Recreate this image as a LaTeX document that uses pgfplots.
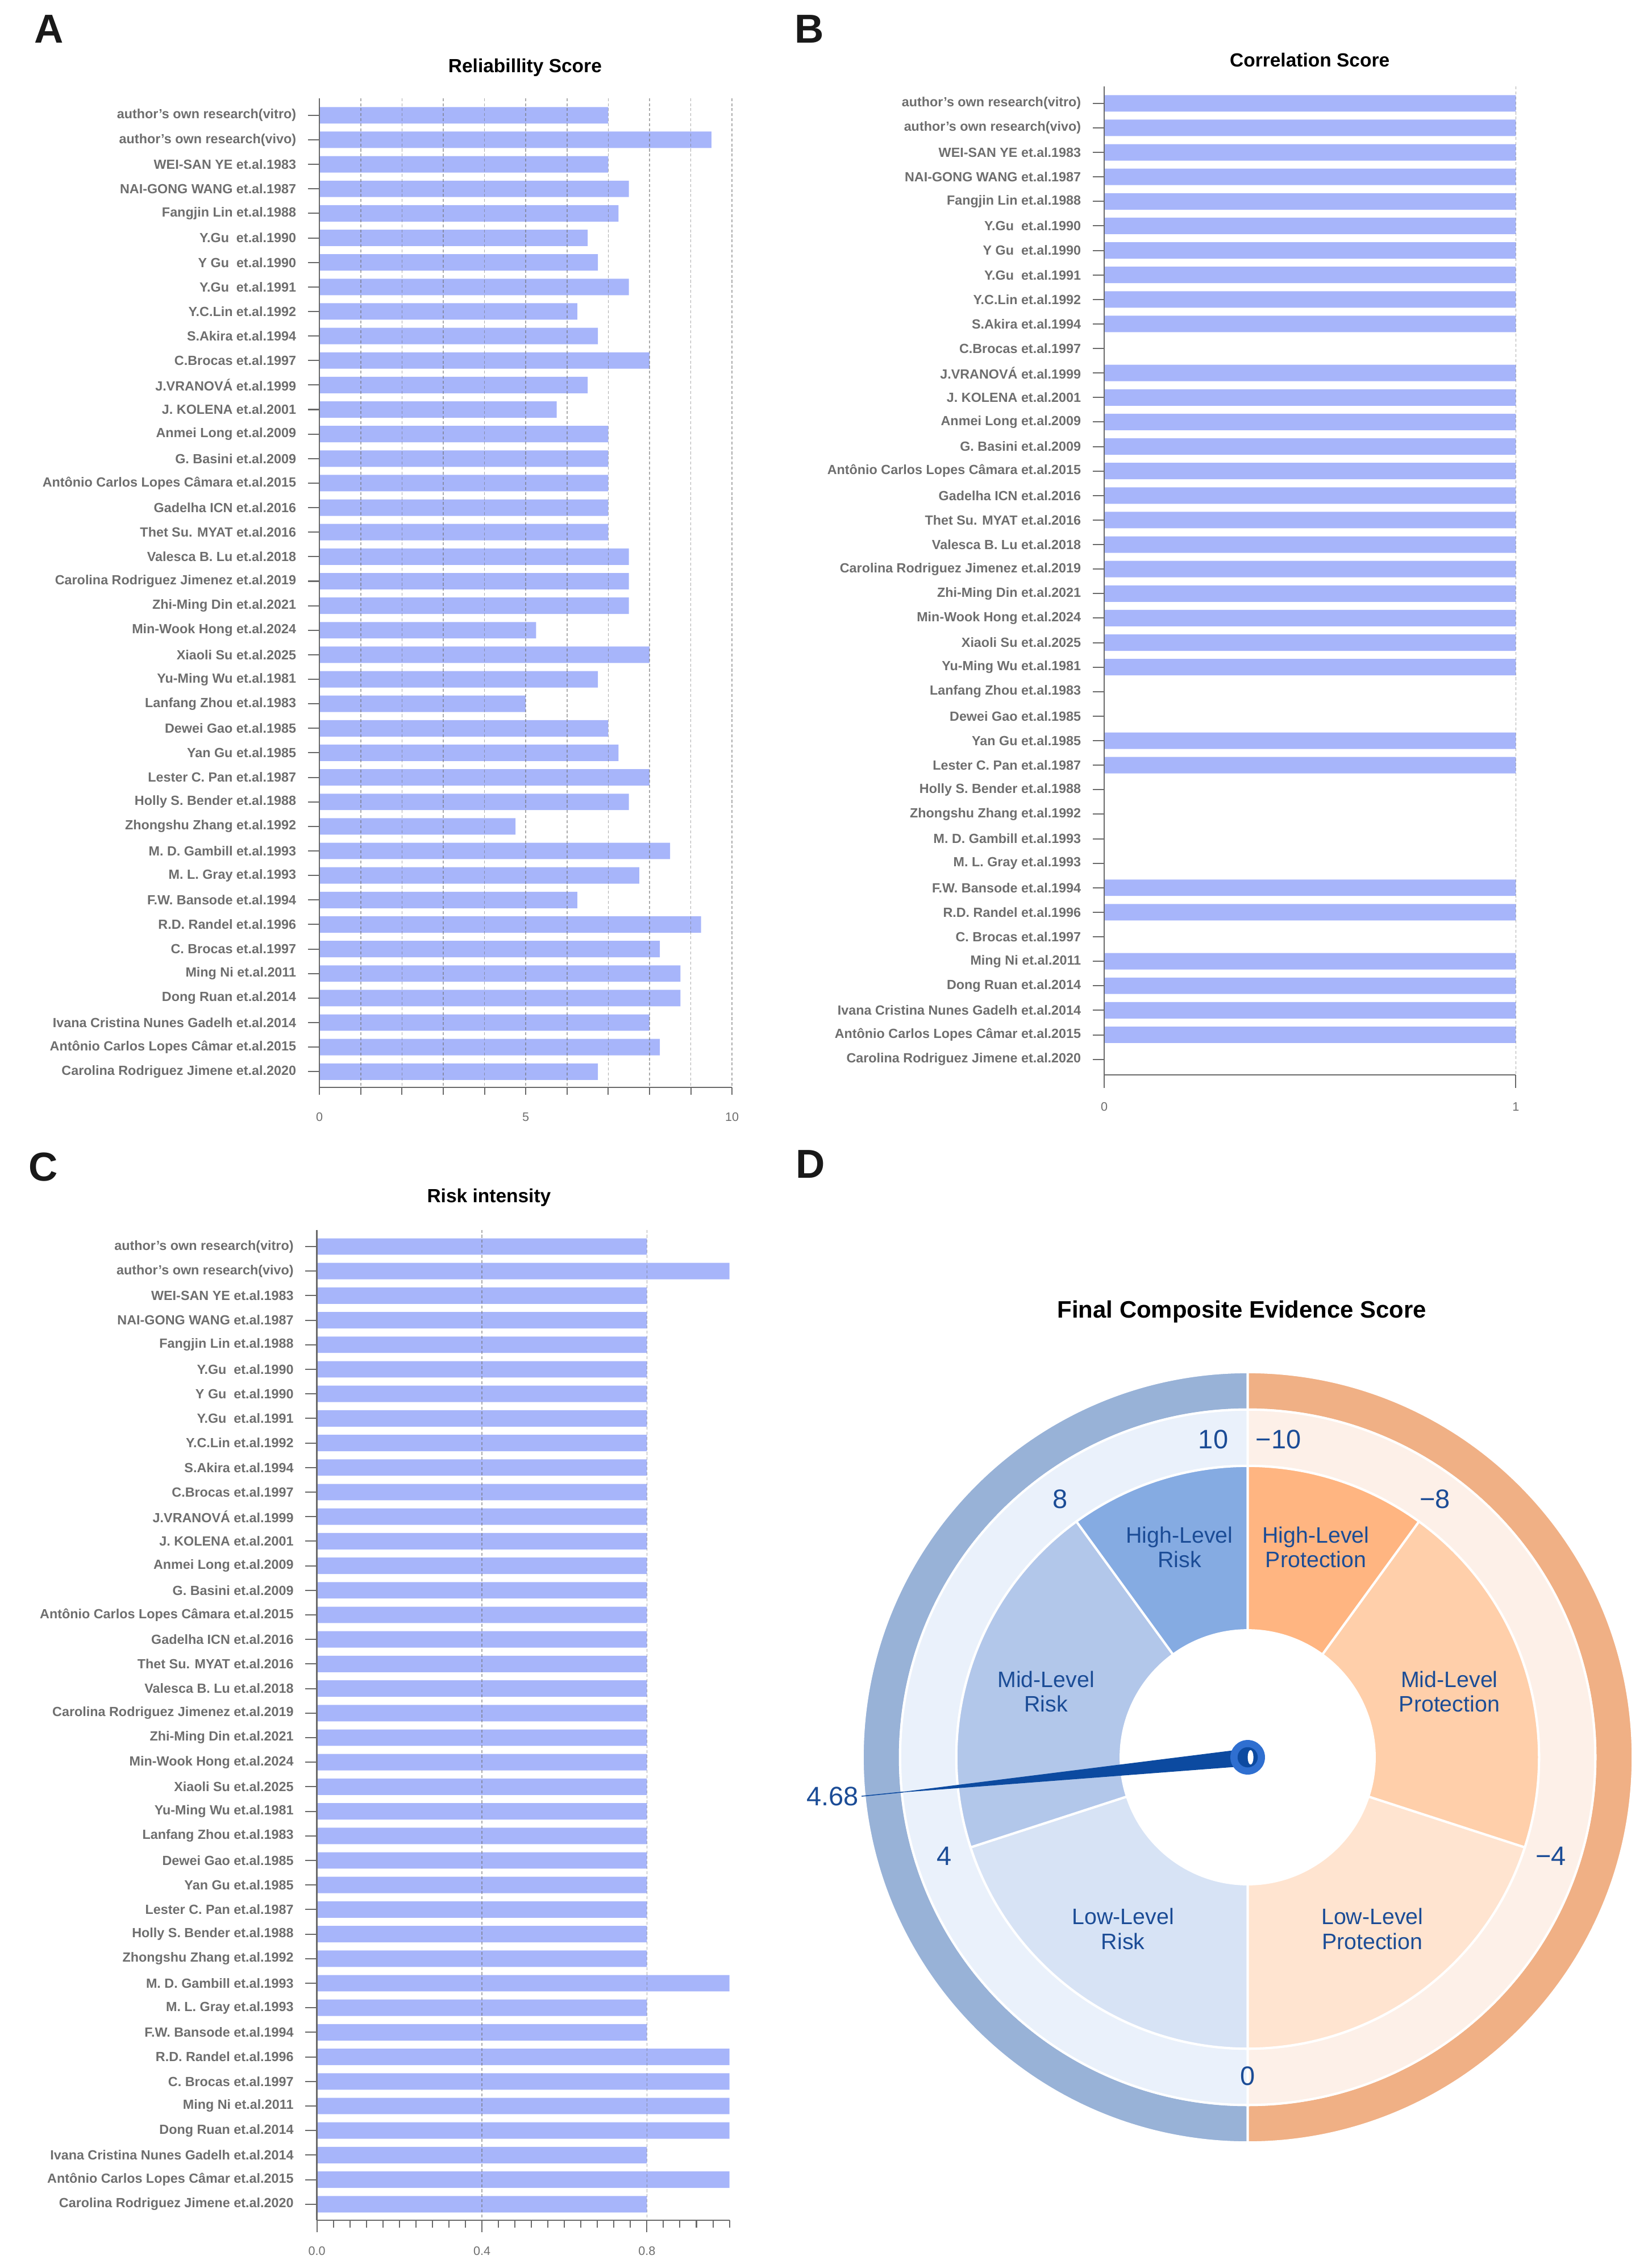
\documentclass[border=0pt]{standalone}
\usepackage{fontspec}
\setmainfont{Liberation Sans}
\usepackage{pgfplots}
\usepackage{pgfplotstable}
\pgfplotsset{compat=1.18}

\definecolor{barblue}{RGB}{167,181,250}
\definecolor{lblgray}{RGB}{110,110,110}
\definecolor{axgray}{RGB}{105,105,105}
\definecolor{outerblue}{RGB}{152,178,215}
\definecolor{outerorange}{RGB}{240,176,133}
\definecolor{ringblue}{RGB}{234,241,251}
\definecolor{ringorange}{RGB}{253,240,232}
\definecolor{riskhigh}{RGB}{133,171,226}
\definecolor{riskmid}{RGB}{178,199,234}
\definecolor{risklow}{RGB}{215,227,245}
\definecolor{prothigh}{RGB}{255,181,129}
\definecolor{protmid}{RGB}{255,207,170}
\definecolor{protlow}{RGB}{255,228,208}
\definecolor{gtext}{RGB}{27,76,150}
\definecolor{needle}{RGB}{12,74,160}
\definecolor{hubblue}{RGB}{47,111,208}

% one row per study: reliability, correlation, risk intensity
\pgfplotstableread{
idx rel  corr risk
0   7.00 1 0.8
1   9.50 1 1.0
2   7.00 1 0.8
3   7.50 1 0.8
4   7.25 1 0.8
5   6.50 1 0.8
6   6.75 1 0.8
7   7.50 1 0.8
8   6.25 1 0.8
9   6.75 1 0.8
10  8.00 0 0.8
11  6.50 1 0.8
12  5.75 1 0.8
13  7.00 1 0.8
14  7.00 1 0.8
15  7.00 1 0.8
16  7.00 1 0.8
17  7.00 1 0.8
18  7.50 1 0.8
19  7.50 1 0.8
20  7.50 1 0.8
21  5.25 1 0.8
22  8.00 1 0.8
23  6.75 1 0.8
24  5.00 0 0.8
25  7.00 0 0.8
26  7.25 1 0.8
27  8.00 1 0.8
28  7.50 0 0.8
29  4.75 0 0.8
30  8.50 0 1.0
31  7.75 0 0.8
32  6.25 1 0.8
33  9.25 1 1.0
34  8.25 0 1.0
35  8.75 1 1.0
36  8.75 1 1.0
37  8.00 1 0.8
38  8.25 1 1.0
39  6.75 0 0.8
}\studies

\pgfplotsset{
  studylabels/.style={yticklabels={
    author's own research(vitro),
    author's own research(vivo),
    WEI-SAN YE et.al.1983,
    NAI-GONG WANG et.al.1987,
    Fangjin Lin et.al.1988,
    Y.Gu\ \ et.al.1990,
    Y Gu\ \ et.al.1990,
    Y.Gu\ \ et.al.1991,
    Y.C.Lin et.al.1992,
    S.Akira et.al.1994,
    C.Brocas et.al.1997,
    J.VRANOVÁ et.al.1999,
    J. KOLENA et.al.2001,
    Anmei Long et.al.2009,
    G. Basini et.al.2009,
    Antônio Carlos Lopes Câmara et.al.2015,
    Gadelha ICN et.al.2016,
    Thet Su. MYAT et.al.2016,
    Valesca B. Lu et.al.2018,
    Carolina Rodriguez Jimenez et.al.2019,
    Zhi-Ming Din et.al.2021,
    Min-Wook Hong et.al.2024,
    Xiaoli Su et.al.2025,
    Yu-Ming Wu et.al.1981,
    Lanfang Zhou et.al.1983,
    Dewei Gao et.al.1985,
    Yan Gu et.al.1985,
    Lester C. Pan et.al.1987,
    Holly S. Bender et.al.1988,
    Zhongshu Zhang et.al.1992,
    M. D. Gambill et.al.1993,
    M. L. Gray et.al.1993,
    F.W. Bansode et.al.1994,
    R.D. Randel et.al.1996,
    C. Brocas et.al.1997,
    Ming Ni et.al.2011,
    Dong Ruan et.al.2014,
    Ivana Cristina Nunes Gadelh et.al.2014,
    Antônio Carlos Lopes Câmar et.al.2015,
    Carolina Rodriguez Jimene et.al.2020}},
  panel/.style={
    scale only axis,
    width=286pt,
    y dir=reverse,
    ytick={0,...,39}, studylabels,
    axis x line*=bottom, axis y line*=left,
    axis line style={axgray, line width=0.9pt},
    tick align=outside,
    tick style={axgray, line width=0.8pt},
    ytick style={/pgfplots/major tick length=8pt},
    yticklabel style={font=\fontsize{9.2}{10}\selectfont\bfseries,
      text=lblgray, anchor=east, inner sep=0pt, xshift=-11.7pt},
    xticklabel style={font=\fontsize{8.5}{10}\selectfont,
      text=lblgray, inner sep=0pt, anchor=north},
    /pgf/number format/assume math mode=true,
    axis on top,
    xmajorgrids=true,
    major grid style={gray!90!black, dash pattern=on 2pt off 1.5pt,
      line width=0.6pt, opacity=0.6},
  },
}
\tikzset{
  panel title/.style={font=\fontsize{13.2}{15}\selectfont\bfseries},
  panel letter/.style={font=\fontsize{28}{30}\selectfont\bfseries,
    text=black!90},
  gnum/.style={font=\fontsize{18.5}{20}\selectfont, text=gtext},
  glab/.style={font=\fontsize{15.5}{17}\selectfont, text=gtext,
    align=center},
}

% sector of the gauge between two scores; score v sits at angle 270-18v
\newcommand{\gsector}[5]{%
  \fill[#5, draw=white, line width=1.6pt]
    ({#3*cos(270-18*#1)},{#3*sin(270-18*#1)})
    -- ({#4*cos(270-18*#1)},{#4*sin(270-18*#1)})
    arc[start angle={270-18*#1}, end angle={270-18*#2}, radius=#4pt]
    -- ({#3*cos(270-18*#2)},{#3*sin(270-18*#2)})
    arc[start angle={270-18*#2}, end angle={270-18*#1}, radius=#3pt]
    -- cycle;}

\begin{document}
\begin{tikzpicture}
\path[use as bounding box] (0,0) rectangle (1145pt,-1572pt);

% ---------------- A: reliability
\node[panel letter] at (34pt,-20pt) {A};
\node[panel title] at (364pt,-46.7pt) {Reliabillity Score};
\begin{axis}[panel,
    at={(364.5pt,-410.9pt)}, anchor=center,
    height=685.8pt, ymin=-0.7, ymax=39.65,
    xmin=0, xmax=10,
    xtick={0,...,10}, xticklabels={0,,,,,5,,,,,10},
    xtick style={/pgfplots/major tick length=5pt},
    xticklabel style={yshift=-13pt},
  ]
  \addplot[xbar, bar width=11.4pt, fill=barblue, draw=none]
    table[x=rel, y=idx]{\studies};
\end{axis}

% ---------------- B: correlation
\node[panel letter] at (561pt,-20pt) {B};
\node[panel title] at (908pt,-41.7pt) {Correlation Score};
\begin{axis}[panel,
    at={(908.25pt,-402.5pt)}, anchor=center,
    width=285.3pt, height=685.2pt, ymin=-0.69, ymax=39.64,
    xmin=0, xmax=1,
    xtick={0,1}, xticklabels={0,1},
    xtick style={/pgfplots/major tick length=8.8pt},
    xticklabel style={yshift=-14.5pt},
  ]
  \addplot[xbar, bar width=11.4pt, fill=barblue, draw=none]
    table[x=corr, y=idx]{\studies};
\end{axis}

% ---------------- C: risk intensity
\node[panel letter] at (30pt,-809pt) {C};
\node[panel title] at (339pt,-830.2pt) {Risk intensity};
\begin{axis}[panel,
    at={(362.7pt,-1195.7pt)}, anchor=center,
    height=686.6pt, ymin=-0.68, ymax=39.66,
    xmin=0, xmax=1,
    xtick={0,0.4,0.8}, xticklabels={0.0,0.4,0.8},
    minor xtick={0.04,0.08,...,1.0},
    xtick style={/pgfplots/major tick length=8pt},
    minor tick length=5pt,
    xticklabel style={yshift=-13.8pt},
  ]
  \addplot[xbar, bar width=11.4pt, fill=barblue, draw=none]
    table[x=risk, y=idx]{\studies};
\end{axis}

% ---------------- D: gauge
\node[panel letter] at (562pt,-807pt) {D};
\node[font=\fontsize{16.5}{18}\selectfont\bfseries] at (861pt,-909.3pt)
  {Final Composite Evidence Score};
\pgfmathsetmacro{\score}{4.68}
\pgfmathsetmacro{\nang}{270-18*\score}
\begin{axis}[at={(865pt,-1218pt)}, anchor=center,
    x=1pt, y=1pt, xmin=-280, xmax=280, ymin=-280, ymax=280,
    hide axis, clip=false]
  % outer band and light ring
  \gsector{0}{10}{241}{267}{outerblue}
  \gsector{-10}{0}{241}{267}{outerorange}
  \gsector{0}{10}{202}{241}{ringblue}
  \gsector{-10}{0}{202}{241}{ringorange}
  % level sectors
  \gsector{0}{4}{88}{202}{risklow}
  \gsector{4}{8}{88}{202}{riskmid}
  \gsector{8}{10}{88}{202}{riskhigh}
  \gsector{-4}{0}{88}{202}{protlow}
  \gsector{-8}{-4}{88}{202}{protmid}
  \gsector{-10}{-8}{88}{202}{prothigh}
  % sector names
  \node[glab] at ({153*cos(108)},{153*sin(108)}) {High-Level\\Risk};
  \node[glab] at ({147*cos(162)},{147*sin(162)}) {Mid-Level\\Risk};
  \node[glab] at ({147*cos(234)},{147*sin(234)}) {Low-Level\\Risk};
  \node[glab] at ({153*cos(72)},{153*sin(72)}) {High-Level\\Protection};
  \node[glab] at ({147*cos(18)},{147*sin(18)}) {Mid-Level\\Protection};
  \node[glab] at ({147*cos(-54)},{147*sin(-54)}) {Low-Level\\Protection};
  % scale numbers
  \node[gnum, anchor=east] at (-10,220.5) {10};
  \node[gnum, anchor=west] at (2,220.5) {−10};
  \node[gnum] at ({221*cos(126)},{221*sin(126)}) {8};
  \node[gnum] at ({221*cos(198)},{221*sin(198)}) {4};
  \node[gnum] at ({221*cos(270)},{221*sin(270)}) {0};
  \node[gnum] at ({221*cos(54)},{221*sin(54)}) {−8};
  \node[gnum] at ({221*cos(342)},{221*sin(342)}) {−4};
  % needle
  \fill[needle] ({6*cos(\nang+90)},{6*sin(\nang+90)})
    -- ({248*cos(\nang)},{248*sin(\nang)})
    -- ({6*cos(\nang-90)},{6*sin(\nang-90)}) -- cycle;
  \draw[needle, line width=0.6pt] ({240*cos(\nang)},{240*sin(\nang)})
    -- ({269*cos(\nang)},{269*sin(\nang)});
  \node[gnum, anchor=east, inner sep=1pt] at ({270*cos(\nang)},{270*sin(\nang)}) {\score};
  \fill[hubblue] (0,0) circle[radius=12pt];
  \fill[needle] (0,0) circle[radius=7pt];
  \fill[white] (2,0) ellipse[x radius=2pt, y radius=5pt];
\end{axis}
\end{tikzpicture}
\end{document}
